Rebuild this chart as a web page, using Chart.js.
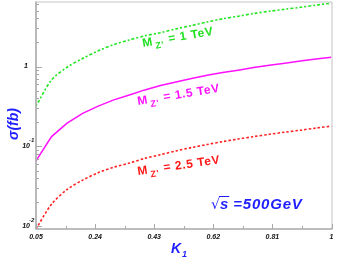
<!DOCTYPE html>
<html>
<head>
<meta charset="utf-8">
<script src="https://cdn.jsdelivr.net/npm/chart.js@4"></script>
<style>
  html, body { margin: 0; padding: 0; background: #fff; }
  #wrap { width: 341px; height: 265px; }
</style>
</head>
<body>
<div id="wrap"><canvas id="c" width="341" height="265"></canvas></div>
<script>
// K1 values (x) and sigma in fb for the three Z' masses
const kValues = [0.05, 0.10, 0.15, 0.20, 0.25, 0.30, 0.35, 0.40, 0.45, 0.50,
                 0.55, 0.60, 0.65, 0.70, 0.75, 0.80, 0.85, 0.90, 0.95, 1.00];
const sigma1TeV = [0.32, 0.68, 0.98, 1.26, 1.57, 1.88, 2.15, 2.42, 2.65, 2.95,
                   3.25, 3.6, 3.95, 4.25, 4.6, 4.9, 5.2, 5.5, 5.85, 6.2];
const sigma15TeV = [0.066, 0.133, 0.196, 0.26, 0.32, 0.383, 0.44, 0.51, 0.58, 0.64,
                    0.71, 0.78, 0.84, 0.9, 0.97, 1.04, 1.1, 1.17, 1.24, 1.31];
const sigma25TeV = [0.0093, 0.019, 0.029, 0.038, 0.047, 0.055, 0.062, 0.071, 0.079, 0.088,
                    0.097, 0.106, 0.115, 0.124, 0.133, 0.142, 0.151, 0.16, 0.17, 0.18];
const xTicks = [0.05, 0.24, 0.43, 0.62, 0.81, 1];
const xTickLabels = ['0.05', '0.24', '0.43', '0.62', '0.81', '1'];
const yDecades = [0.01, 0.1, 1];
const yDecadeExp = ['-2', '-1', ''];

const BLUE = '#1f1fff';
const AXIS_GREY = '#a8a8a8';
const TICK_FONT = "italic bold 7px 'Liberation Sans', Arial, sans-serif";

function pts(ys) {
  return kValues.map((k, i) => ({ x: k, y: ys[i] }));
}

// draws "M" + subscript "Z'" + rest, rotated, starting at (x, y)
function massLabel(ctx, x, y, angle, rest, colour) {
  ctx.save();
  ctx.translate(x, y);
  ctx.rotate(angle);
  ctx.fillStyle = colour;
  ctx.textBaseline = 'alphabetic';
  ctx.textAlign = 'left';
  ctx.letterSpacing = '0.6px';
  ctx.font = "bold 12px 'Liberation Sans', Arial, sans-serif";
  ctx.fillText('M', 0, 0);
  let w = ctx.measureText('M').width + 2;
  ctx.font = "bold 9px 'Liberation Sans', Arial, sans-serif";
  ctx.fillText("Z'", w, 4);
  w += ctx.measureText("Z'").width + 1;
  ctx.font = "bold 12px 'Liberation Sans', Arial, sans-serif";
  ctx.fillText(rest, w, 0);
  ctx.restore();
}

const framePlugin = {
  id: 'frame',
  afterDraw(chart) {
    const { ctx, chartArea: a, scales } = chart;
    const xs = scales.x, ys = scales.y;
    ctx.save();

    // frame
    ctx.strokeStyle = '#c4c4c4';
    ctx.lineWidth = 1;
    ctx.beginPath();
    ctx.moveTo(a.left, a.top + 0.5);
    ctx.lineTo(a.right + 0.5, a.top + 0.5);
    ctx.lineTo(a.right + 0.5, a.bottom);
    ctx.stroke();

    // axes
    ctx.strokeStyle = AXIS_GREY;
    ctx.lineWidth = 1.6;
    ctx.beginPath();
    ctx.moveTo(a.left, a.top);
    ctx.lineTo(a.left, a.bottom);
    ctx.lineTo(a.right + 1, a.bottom);
    ctx.stroke();

    // y ticks: decades long, 2..9 short
    ctx.lineWidth = 1;
    ctx.beginPath();
    yDecades.forEach(d => {
      for (let m = 1; m <= 9; m++) {
        const v = d * m;
        if (v < ys.min || v > ys.max) continue;
        const py = Math.round(ys.getPixelForValue(v)) + 0.5;
        const len = m === 1 ? 6 : 3;
        ctx.moveTo(a.left, py);
        ctx.lineTo(a.left + len, py);
      }
    });
    ctx.stroke();

    // x ticks: majors and midpoints
    ctx.beginPath();
    xTicks.forEach((t, i) => {
      const px = Math.round(xs.getPixelForValue(t)) + 0.5;
      ctx.moveTo(px, a.bottom);
      ctx.lineTo(px, a.bottom - 5);
      if (i < xTicks.length - 1) {
        const mx = Math.round(xs.getPixelForValue((t + xTicks[i + 1]) / 2)) + 0.5;
        ctx.moveTo(mx, a.bottom);
        ctx.lineTo(mx, a.bottom - 3);
      }
    });
    ctx.stroke();

    // x tick labels
    ctx.fillStyle = '#111';
    ctx.font = TICK_FONT;
    ctx.textAlign = 'center';
    ctx.textBaseline = 'middle';
    xTicks.forEach((t, i) => {
      ctx.fillText(xTickLabels[i], xs.getPixelForValue(t), a.bottom + 8);
    });

    // y tick labels (10 with exponent)
    yDecades.forEach((d, i) => {
      const py = ys.getPixelForValue(d);
      if (yDecadeExp[i] === '') {
        ctx.textAlign = 'right';
        ctx.textBaseline = 'middle';
        ctx.fillText('1', a.left - 8, py);
      } else {
        ctx.textAlign = 'right';
        ctx.textBaseline = 'middle';
        ctx.fillText('10', a.left - 6, py);
        ctx.font = "italic bold 6px 'Liberation Sans', Arial, sans-serif";
        ctx.textAlign = 'left';
        ctx.fillText(yDecadeExp[i], a.left - 7, py - 6);
        ctx.font = TICK_FONT;
      }
    });

    // axis titles
    ctx.fillStyle = BLUE;
    ctx.save();
    ctx.translate(14, 124);
    ctx.rotate(-Math.PI / 2);
    ctx.textAlign = 'center';
    ctx.textBaseline = 'middle';
    ctx.font = "italic bold 14px 'Liberation Sans', Arial, sans-serif";
    ctx.fillText('\u03c3(fb)', 0, 0);
    ctx.restore();

    ctx.textAlign = 'left';
    ctx.textBaseline = 'alphabetic';
    ctx.font = "italic bold 14px 'Liberation Sans', Arial, sans-serif";
    ctx.fillText('K', 171, 253);
    ctx.font = "italic bold 9px 'Liberation Sans', Arial, sans-serif";
    ctx.fillText('1', 182, 257);

    // sqrt(s) note
    ctx.font = "14px 'DejaVu Sans', sans-serif";
    ctx.fillText('\u221a', 211, 209);
    const rootW = ctx.measureText('\u221a').width;
    ctx.font = "italic bold 15px 'Liberation Sans', Arial, sans-serif";
    const sW = ctx.measureText('s').width;
    ctx.fillText('s', 211 + rootW, 209);
    ctx.fillRect(211 + rootW - 1, 196, sW + 2, 1);
    ctx.letterSpacing = '0.8px';
    ctx.fillText(' =500GeV', 211 + rootW + sW, 209);
    ctx.letterSpacing = '0px';

    // curve labels
    massLabel(ctx, 143, 47, -0.17, ' = 1 TeV', '#22e022');
    massLabel(ctx, 138, 105, -0.16, ' = 1.5 TeV', '#ff10ff');
    massLabel(ctx, 138, 175, -0.14, ' = 2.5 TeV', '#ff1a1a');

    ctx.restore();
  }
};

new Chart(document.getElementById('c'), {
  type: 'line',
  data: {
    datasets: [
      { label: "M Z' = 1 TeV", data: pts(sigma1TeV), borderColor: '#22e622',
        borderWidth: 1.6, borderDash: [2, 2, 3, 2], pointRadius: 0, tension: 0.3 },
      { label: "M Z' = 1.5 TeV", data: pts(sigma15TeV), borderColor: '#ff10ff',
        borderWidth: 1.5, pointRadius: 0, tension: 0 },
      { label: "M Z' = 2.5 TeV", data: pts(sigma25TeV), borderColor: '#ff2222',
        borderWidth: 1.6, borderDash: [2.5, 2], pointRadius: 0, tension: 0.3 },
    ],
  },
  options: {
    responsive: false,
    animation: false,
    layout: { padding: { left: 36, right: 9.5, top: 1.5, bottom: 36 } },
    plugins: { legend: { display: false }, tooltip: { enabled: false } },
    scales: {
      x: { type: 'linear', min: 0.05, max: 1, display: false },
      y: { type: 'logarithmic', min: 0.0093, max: 6.5, display: false },
    },
  },
  plugins: [framePlugin],
});
</script>
</body>
</html>
